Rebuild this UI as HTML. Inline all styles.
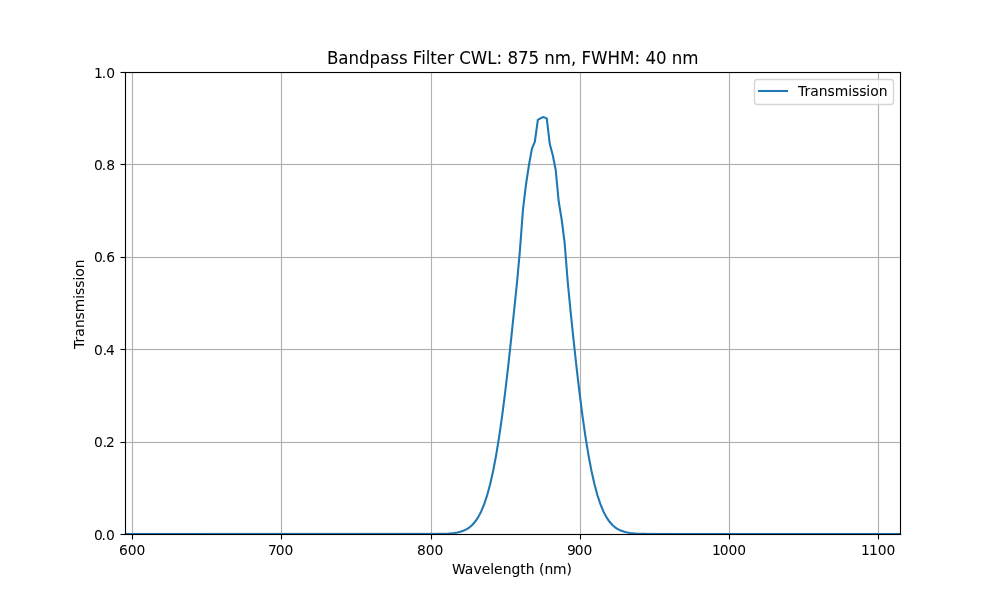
<!DOCTYPE html>
<html lang="en"><head><meta charset="utf-8"><title>Bandpass Filter CWL: 875 nm, FWHM: 40 nm</title>
<style>
html,body{margin:0;padding:0;background:#fff;}
body{width:1000px;height:600px;overflow:hidden;}
svg{display:block;}
text{font-family:"DejaVu Sans","Liberation Sans",sans-serif;fill:#000;}
.t10{font-size:13.889px;}
.t12{font-size:16.667px;}
.grid{stroke:#b0b0b0;stroke-width:1.111;fill:none;}
.tick{stroke:#000;stroke-width:1.111;fill:none;}
.spine{stroke:#000;stroke-width:1.111;fill:none;stroke-linecap:square;}
</style></head><body>
<svg width="1000" height="600" viewBox="0 0 1000 600">
<defs><clipPath id="ax"><rect x="125" y="72" width="775" height="462"/></clipPath>
<linearGradient id="gl" gradientUnits="userSpaceOnUse" x1="126" y1="0" x2="438" y2="0"><stop offset="0" stop-color="#1f77b4" stop-opacity="0.049"/><stop offset="1" stop-color="#1f77b4" stop-opacity="0.152"/></linearGradient>
<linearGradient id="gr" gradientUnits="userSpaceOnUse" x1="648" y1="0" x2="680" y2="0"><stop offset="0" stop-color="#1f77b4" stop-opacity="0.129"/><stop offset="0.3" stop-color="#1f77b4" stop-opacity="0.075"/><stop offset="1" stop-color="#1f77b4" stop-opacity="0.045"/></linearGradient></defs>
<rect x="0" y="0" width="1000" height="600" fill="#ffffff"/>
<!-- grid -->
<g class="grid" clip-path="url(#ax)">
<path d="M132.5 534V72"/>
<path d="M281.5 534V72"/>
<path d="M431.5 534V72"/>
<path d="M580.5 534V72"/>
<path d="M729.5 534V72"/>
<path d="M878.5 534V72"/>
<path d="M125 534.5H900" stroke-width="3" stroke-opacity="0.06"/><path d="M125 534.5H900"/>
<path d="M125 442.5H900" stroke-width="3" stroke-opacity="0.06"/><path d="M125 442.5H900"/>
<path d="M125 349.5H900" stroke-width="3" stroke-opacity="0.06"/><path d="M125 349.5H900"/>
<path d="M125 257.5H900" stroke-width="3" stroke-opacity="0.06"/><path d="M125 257.5H900"/>
<path d="M125 164.5H900" stroke-width="3" stroke-opacity="0.06"/><path d="M125 164.5H900"/>
<path d="M125 72.5H900" stroke-width="3" stroke-opacity="0.06"/><path d="M125 72.5H900"/>
</g>
<!-- ticks -->
<g class="tick">
<path d="M132.5 534.5V539.5"/>
<path d="M281.5 534.5V539.5"/>
<path d="M431.5 534.5V539.5"/>
<path d="M580.5 534.5V539.5"/>
<path d="M729.5 534.5V539.5"/>
<path d="M878.5 534.5V539.5"/>
<path d="M125.5 534.5H120.5"/>
<path d="M125.5 442.5H120.5"/>
<path d="M125.5 349.5H120.5"/>
<path d="M125.5 257.5H120.5"/>
<path d="M125.5 164.5H120.5"/>
<path d="M125.5 72.5H120.5"/>
</g>
<!-- transmission curve -->
<polyline clip-path="url(#ax)" points="123.51,534 126.49,534 129.47,534 132.45,534 135.43,534 138.41,534 141.39,534 144.38,534 147.36,534 150.34,534 153.32,534 156.3,534 159.28,534 162.26,534 165.24,534 168.22,534 171.2,534 174.18,534 177.16,534 180.14,534 183.12,534 186.11,534 189.09,534 192.07,534 195.05,534 198.03,534 201.01,534 203.99,534 206.97,534 209.95,534 212.93,534 215.91,534 218.89,534 221.88,534 224.86,534 227.84,534 230.82,534 233.8,534 236.78,534 239.76,534 242.74,534 245.72,534 248.7,534 251.68,534 254.66,534 257.64,534 260.62,534 263.61,534 266.59,534 269.57,534 272.55,534 275.53,534 278.51,534 281.49,534 284.47,534 287.45,534 290.43,534 293.41,534 296.39,534 299.38,534 302.36,534 305.34,534 308.32,534 311.3,534 314.28,534 317.26,534 320.24,534 323.22,534 326.2,534 329.18,534 332.16,534 335.14,534 338.12,534 341.11,534 344.09,534 347.07,534 350.05,534 353.03,534 356.01,534 358.99,534 361.97,534 364.95,534 367.93,534 370.91,534 373.89,534 376.88,534 379.86,534 382.84,534 385.82,534 388.8,534 391.78,534 394.76,534 397.74,534 400.72,534 403.7,534 406.68,534 409.66,534 412.64,534 415.62,534 418.61,534 421.59,534 424.57,533.99 427.55,533.99 430.53,533.98 433.51,533.96 436.49,533.93 439.47,533.89 442.45,533.83 445.43,533.73 448.41,533.57 451.39,533.34 454.38,533 457.36,532.51 460.34,531.8 463.32,530.8 466.3,529.41 469.28,527.51 472.26,524.95 475.24,521.56 478.22,517.12 481.2,511.42 484.18,504.2 487.16,495.22 490.14,484.23 493.12,471 496.11,455.36 499.09,437.18 502.07,416.44 505.05,393.23 508.03,367.75 511.01,340.36 513.99,311.56 516.97,283 519.95,250 522.93,210 525.91,185.2 528.89,165.5 531.88,148.9 534.86,141.7 537.84,119.8 540.82,118.1 543.8,117.1 546.78,118.4 549.76,144 552.74,155 555.72,170 558.7,201.5 561.68,219.5 564.66,243 567.64,281 570.62,311.56 573.61,340.36 576.59,367.75 579.57,393.23 582.55,416.44 585.53,437.18 588.51,455.36 591.49,471 594.47,484.23 597.45,495.22 600.43,504.2 603.41,511.42 606.39,517.12 609.38,521.56 612.36,524.95 615.34,527.51 618.32,529.41 621.3,530.8 624.28,531.8 627.26,532.51 630.24,533 633.22,533.34 636.2,533.57 639.18,533.73 642.16,533.83 645.14,533.89 648.12,533.93 651.11,533.96 654.09,533.98 657.07,533.99 660.05,533.99 663.03,534 666.01,534 668.99,534 671.97,534 674.95,534 677.93,534 680.91,534 683.89,534 686.88,534 689.86,534 692.84,534 695.82,534 698.8,534 701.78,534 704.76,534 707.74,534 710.72,534 713.7,534 716.68,534 719.66,534 722.64,534 725.62,534 728.61,534 731.59,534 734.57,534 737.55,534 740.53,534 743.51,534 746.49,534 749.47,534 752.45,534 755.43,534 758.41,534 761.39,534 764.38,534 767.36,534 770.34,534 773.32,534 776.3,534 779.28,534 782.26,534 785.24,534 788.22,534 791.2,534 794.18,534 797.16,534 800.14,534 803.12,534 806.11,534 809.09,534 812.07,534 815.05,534 818.03,534 821.01,534 823.99,534 826.97,534 829.95,534 832.93,534 835.91,534 838.89,534 841.88,534 844.86,534 847.84,534 850.82,534 853.8,534 856.78,534 859.76,534 862.74,534 865.72,534 868.7,534 871.68,534 874.66,534 877.64,534 880.62,534 883.61,534 886.59,534 889.57,534 892.55,534 895.53,534 898.51,534 901.49,534" fill="none" stroke="#1f77b4" stroke-width="2.083" stroke-linejoin="round" stroke-linecap="square"/>
<g fill="#1f77b4"><rect x="126" y="532" width="312" height="1" fill="url(#gl)"/><rect x="648" y="532" width="32" height="1" fill="url(#gr)"/><rect x="680" y="532" width="220" height="1" fill-opacity="0.045"/></g>
<!-- spines -->
<g class="spine" stroke-opacity="0.055" style="stroke-width:3;stroke-linecap:butt"><path d="M124 534.5H902"/><path d="M124 72.5H902"/></g>
<g class="spine"><path d="M125.5 534.5V72.5"/><path d="M900.5 534.5V72.5"/><path d="M125.5 534.5H900.5"/><path d="M125.5 72.5H900.5"/></g>
<!-- legend -->
<rect x="754.5" y="79.5" width="139" height="25" rx="2.78" ry="2.78" fill="#ffffff" fill-opacity="0.8" stroke="#cccccc" stroke-opacity="0.8" stroke-width="1.389"/>
<path d="M759 91H787" stroke="#1f77b4" stroke-width="2.083" stroke-linecap="square" fill="none"/>
<!-- text -->
<text class="t10" x="119.11 127.67 136.5" y="555">600</text>
<text class="t10" x="267.9 275.71 284.54" y="555">700</text>
<text class="t10" x="417.09 425.65 434.48" y="555">800</text>
<text class="t10" x="566.93 574.74 583.57" y="555">900</text>
<text class="t10" x="711.88 719.82 728.39 737.22" y="555">1000</text>
<text class="t10" x="860.92 868.99 877.81 886.39" y="555">1100</text>
<text class="t10" x="93.9 101.46 105.88" y="540">0.0</text>
<text class="t10" x="93.9 102.71 105.88" y="447">0.2</text>
<text class="t10" x="93.9 102.71 105.88" y="355">0.4</text>
<text class="t10" x="93.9 101.71 106.13" y="262">0.6</text>
<text class="t10" x="93.9 101.71 106.13" y="170">0.8</text>
<text class="t10" x="93.9 101.71 106.13" y="78">1.0</text>
<text class="t10" x="451.92 464.75 473.5 481.7 490.25 494.09 502.64 511.44 520.23 525.67 534.47 539 544.42 552.97 566.48" y="574" stroke="#000" stroke-width="0.062">Wavelength (nm)</text>
<text class="t10" x="38.73 45.15 51.1 59.75 68.28 75.64 88.9 92.76 99.98 107.21 111.07 119.43" y="303.95" transform="rotate(-90 83.8 303.95)" stroke="#000" stroke-width="0.03">Transmission</text>
<g transform="matrix(1 0 0 1.09 0 -5.760)"><text class="t12" x="327.05 338.21 348.43 358.98 369.55 380 390.21 398.89 407.71 412.82 421.18 425.8 430.3 436.83 447.2 454.2 459.14 470.76 487.24 496.52 502.13 507.62 517.96 528.55 539.17 544.25 554.8 570.89 576.34 581.39 590.96 607.42 620.08 634.45 640.07 645.41 656 666.61 671.72 682.27" y="64" stroke="#000" stroke-width="0.032">Bandpass Filter CWL: 875 nm, FWHM: 40 nm</text></g>
<text class="t10" x="798.08 804.5 810.2 818.72 827.5 834.73 848.37 851.98 859.2 866.31 870.29 878.65" y="96" stroke="#000" stroke-width="0.033">Transmission</text>
</svg></body></html>
